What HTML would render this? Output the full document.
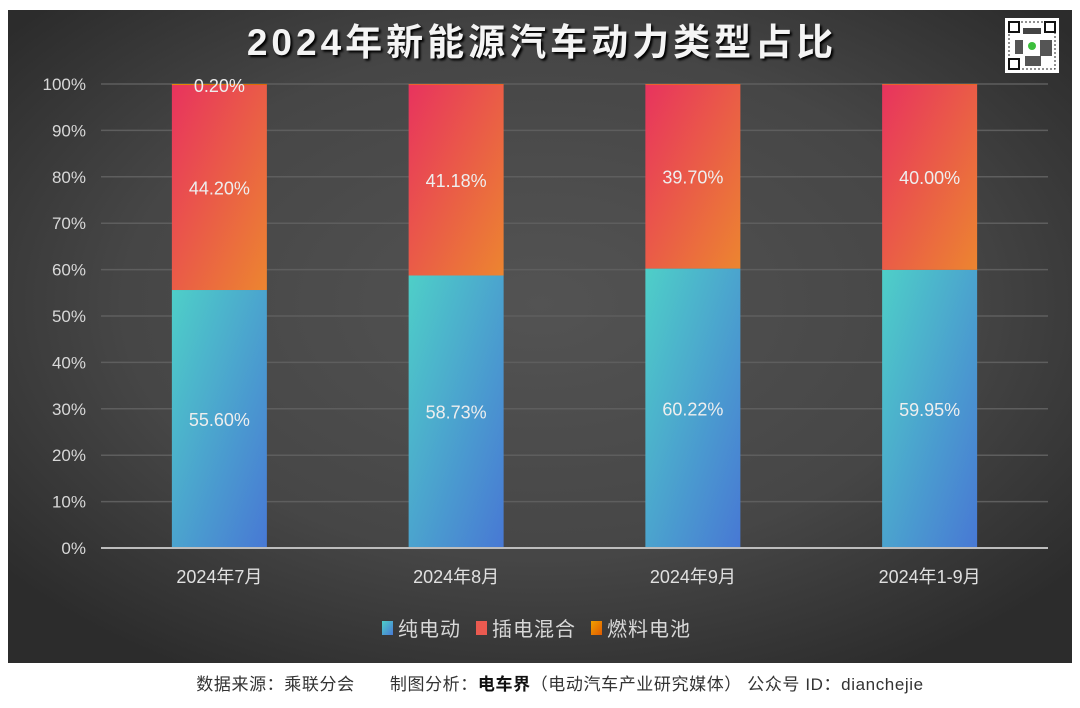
<!DOCTYPE html>
<html><head><meta charset="utf-8">
<style>
body{margin:0;width:1080px;height:708px;background:#fff;overflow:hidden;font-family:"Liberation Sans","Noto Sans CJK SC",sans-serif}
svg{display:block}
</style></head>
<body>
<svg id="chart" width="1080" height="708" xmlns="http://www.w3.org/2000/svg">
<defs>
<radialGradient id="bg" cx="50%" cy="45%" r="65%">
<stop offset="0" stop-color="#535353"/><stop offset="0.6" stop-color="#464646"/><stop offset="1" stop-color="#2c2c2c"/>
</radialGradient>
<linearGradient id="gBev" x1="0" y1="0" x2="1" y2="1">
<stop offset="0" stop-color="#4ecfc8"/><stop offset="1" stop-color="#4878d4"/>
</linearGradient>
<linearGradient id="gPhev" x1="0" y1="0" x2="1" y2="1">
<stop offset="0" stop-color="#e8335e"/><stop offset="1" stop-color="#ec8530"/>
</linearGradient>
<linearGradient id="gFcv" x1="0" y1="0" x2="1" y2="1">
<stop offset="0" stop-color="#f0a000"/><stop offset="1" stop-color="#e05a00"/>
</linearGradient>
</defs>
<rect x="8" y="10" width="1064" height="653" fill="url(#bg)"/>
<text x="542" y="55" text-anchor="middle" font-size="37" font-weight="bold" fill="#f4f4f4" letter-spacing="4" style="text-shadow:2px 2px 2px #000">2024年新能源汽车动力类型占比</text>
<g>
<rect x="1005" y="18" width="54" height="55" fill="#fff"/>
<rect x="1009" y="22" width="46" height="47" fill="none" stroke="#222" stroke-width="1" stroke-dasharray="2 2"/>
<rect x="1009" y="22" width="10" height="10" fill="none" stroke="#111" stroke-width="2"/>
<rect x="1045" y="22" width="10" height="10" fill="none" stroke="#111" stroke-width="2"/>
<rect x="1009" y="59" width="10" height="10" fill="none" stroke="#111" stroke-width="2"/>
<rect x="1023" y="28" width="18" height="6" fill="#444"/>
<rect x="1015" y="40" width="8" height="14" fill="#555"/>
<rect x="1040" y="40" width="12" height="16" fill="#555"/>
<rect x="1025" y="56" width="16" height="10" fill="#555"/>
<circle cx="1032" cy="46" r="4" fill="#3cbf3c"/>
</g>
<g id="grid"></g>
<g id="bars"></g>
<g id="labels"></g>
<line x1="101" y1="548" x2="1048" y2="548" stroke="#bdbdbd" stroke-width="2"/>
<g id="legend">
<rect x="382" y="621" width="11" height="14" fill="url(#gBev)"/>
<text x="398" y="636" font-size="20" fill="#d8d8d8" letter-spacing="1">纯电动</text>
<rect x="476" y="621" width="11" height="14" fill="#ea5a50"/>
<text x="492" y="636" font-size="20" fill="#d8d8d8" letter-spacing="1">插电混合</text>
<rect x="591" y="621" width="11" height="14" fill="url(#gFcv)"/>
<text x="607" y="636" font-size="20" fill="#d8d8d8" letter-spacing="1">燃料电池</text>
</g>
<text x="560" y="690" text-anchor="middle" font-size="17" fill="#333" letter-spacing="0.6">数据来源：乘联分会　　制图分析：<tspan font-weight="bold" fill="#111">电车界</tspan>（电动汽车产业研究媒体）  公众号 ID：dianchejie</text>
</svg>
<script>
const categories = ["2024年7月","2024年8月","2024年9月","2024年1-9月"];
const bevValues = [55.60, 58.73, 60.22, 59.95];
const phevValues = [44.20, 41.18, 39.70, 40.00];
const fcvValues = [0.20, 0.09, 0.08, 0.05];
const fcvShowLabel = [true, false, false, false];
const yTicks = [0,10,20,30,40,50,60,70,80,90,100];

const NS = "http://www.w3.org/2000/svg";
const x0 = 101, x1 = 1048, yBase = 548, yTop = 84;
const y = v => yBase - (v/100)*(yBase-yTop);
const band = (x1-x0)/categories.length;
const xc = i => x0 + band*(i+0.5);
const bw = 95;
function mk(tag, attrs, parent){const e=document.createElementNS(NS,tag);for(const k in attrs)e.setAttribute(k,attrs[k]);parent.appendChild(e);return e;}
const grid=document.getElementById('grid'), bars=document.getElementById('bars'), labels=document.getElementById('labels');
yTicks.forEach(t=>{
  if(t>0){const l=mk('line',{x1:x0,x2:x1,y1:y(t),y2:y(t),stroke:'#5e5e5e','stroke-width':1.5},grid);
  
  }
  const tx=mk('text',{x:86,y:y(t)+6,'text-anchor':'end','font-size':17,fill:'#d8d8d8'},grid);
  
  
  tx.textContent=t+'%';
});
const fmt=v=>v.toFixed(2)+'%';
categories.forEach((c,i)=>{
  const xl=xc(i)-bw/2;
  const r1=mk('rect',{x:xl,y:y(bevValues[i]),width:bw,height:y(0)-y(bevValues[i]),fill:'url(#gBev)'},bars);
  
  
  const s2=bevValues[i]+phevValues[i];
  const r2=mk('rect',{x:xl,y:y(s2),width:bw,height:y(bevValues[i])-y(s2),fill:'url(#gPhev)'},bars);
  
  
  const s3=s2+fcvValues[i];
  const r3=mk('rect',{x:xl,y:y(s3),width:bw,height:Math.max(y(s2)-y(s3),0.5),fill:'url(#gFcv)'},bars);
  
  
  const t1=mk('text',{x:xc(i),y:y(bevValues[i]/2)+7,'text-anchor':'middle','font-size':18,fill:'#eeeeee'},labels);
  
  
  t1.textContent=fmt(bevValues[i]);
  const t2=mk('text',{x:xc(i),y:y(bevValues[i]+phevValues[i]/2)+7,'text-anchor':'middle','font-size':18,fill:'#eeeeee'},labels);
  
  
  t2.textContent=fmt(phevValues[i]);
  if(fcvShowLabel[i]){
    const t3=mk('text',{x:xc(i),y:y(s3)+8,'text-anchor':'middle','font-size':18,fill:'#eeeeee'},labels);
    
    
    t3.textContent=fmt(fcvValues[i]);
  }
  const xt=mk('text',{x:xc(i),y:583,'text-anchor':'middle','font-size':18,fill:'#e0e0e0'},labels);
  
  
  xt.textContent=c;
});
</script>
</body></html>
